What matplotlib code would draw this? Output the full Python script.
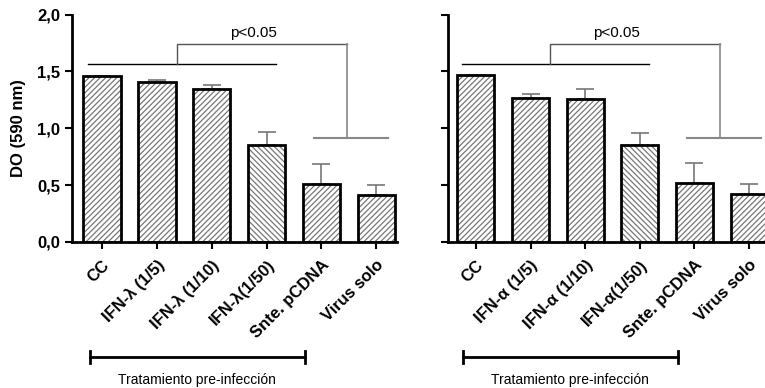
import matplotlib.pyplot as plt
from matplotlib.ticker import FuncFormatter

plt.rcParams['font.family'] = ['Liberation Sans', 'DejaVu Sans']
plt.rcParams['hatch.linewidth'] = 0.9

labels_l = ["CC", "IFN-λ (1/5)", "IFN-λ (1/10)", "IFN-λ(1/50)", "Snte. pCDNA", "Virus solo"]
labels_r = ["CC", "IFN-α (1/5)", "IFN-α (1/10)", "IFN-α(1/50)", "Snte. pCDNA", "Virus solo"]
vals_l = [1.46, 1.41, 1.345, 0.855, 0.51, 0.415]
err_l = [0.0, 0.01, 0.035, 0.115, 0.18, 0.085]
vals_r = [1.465, 1.27, 1.26, 0.85, 0.515, 0.42]
err_r = [0.0, 0.03, 0.085, 0.11, 0.18, 0.09]
hatches = ["//////", "//////", "//////", "\\\\\\\\\\\\", "//////", "//////"]

fig = plt.figure(figsize=(7.65, 3.88), dpi=100)
ax1 = fig.add_axes([0.0941, 0.3763, 0.4248, 0.5863])
ax2 = fig.add_axes([0.5856, 0.3763, 0.4144, 0.5863])


def draw(ax, labels, vals, errs, xlim, ptext_x, show_y):
    x = list(range(len(vals)))
    ax.bar(x, vals, width=0.68, color="white", edgecolor="#777777", hatch=hatches, linewidth=0)
    ax.bar(x, vals, width=0.68, fill=False, edgecolor="black", linewidth=2.0)
    ax.errorbar(x, vals, yerr=[[0] * len(errs), errs], fmt="none", ecolor="#777777",
                elinewidth=1.2, capsize=6.5, capthick=1.2, zorder=0)
    ax.set_xlim(*xlim)
    ax.set_ylim(0, 2.0)
    ax.set_yticks([0, 0.5, 1.0, 1.5, 2.0])
    ax.yaxis.set_major_formatter(FuncFormatter(lambda v, p: f"{v:.1f}".replace(".", ",")))
    ax.set_xticks(x)
    ax.set_xticklabels(labels, rotation=45, ha="right", rotation_mode="anchor",
                       fontsize=11.5, fontweight="bold")
    for s in ["top", "right"]:
        ax.spines[s].set_visible(False)
    for s in ["left", "bottom"]:
        ax.spines[s].set_linewidth(2.0)
    ax.tick_params(width=1.5, length=5, labelsize=12)
    ax.tick_params(axis="x", pad=6)
    for t in ax.get_yticklabels():
        t.set_fontweight("bold")
    if not show_y:
        ax.set_yticklabels([])
    # significance bracket
    ax.plot([-0.26, 3.17], [1.568, 1.568], color="black", lw=1.0, clip_on=False)
    ax.plot([1.36, 1.36, 4.47], [1.568, 1.745, 1.745], color="#555555", lw=1.0, clip_on=False)
    ax.plot([4.47, 4.47], [1.745, 0.925], color="#888888", lw=1.2, clip_on=False)
    ax.plot([3.87, 5.22], [0.915, 0.915], color="#888888", lw=1.5, clip_on=False)
    ax.text(ptext_x, 1.84, "p<0.05", ha="center", va="center", fontsize=11)
    # treatment bracket
    tr = ax.get_xaxis_transform()
    ax.plot([-0.23, 3.7], [-0.505, -0.505], color="black", lw=2.0, transform=tr, clip_on=False)
    for xe in [-0.23, 3.7]:
        ax.plot([xe, xe], [-0.48, -0.53], color="black", lw=2.0, transform=tr, clip_on=False)
    ax.text(1.73, -0.607, "Tratamiento pre-infección", ha="center", va="center",
            fontsize=10, transform=tr)


draw(ax1, labels_l, vals_l, err_l, (-0.55, 5.38), 2.76, True)
draw(ax2, labels_r, vals_r, err_r, (-0.51, 5.29), 2.58, False)
ax1.set_ylabel("DO (590 nm)", fontsize=12, fontweight="bold", labelpad=8)

fig.savefig("out.png", dpi=100)
